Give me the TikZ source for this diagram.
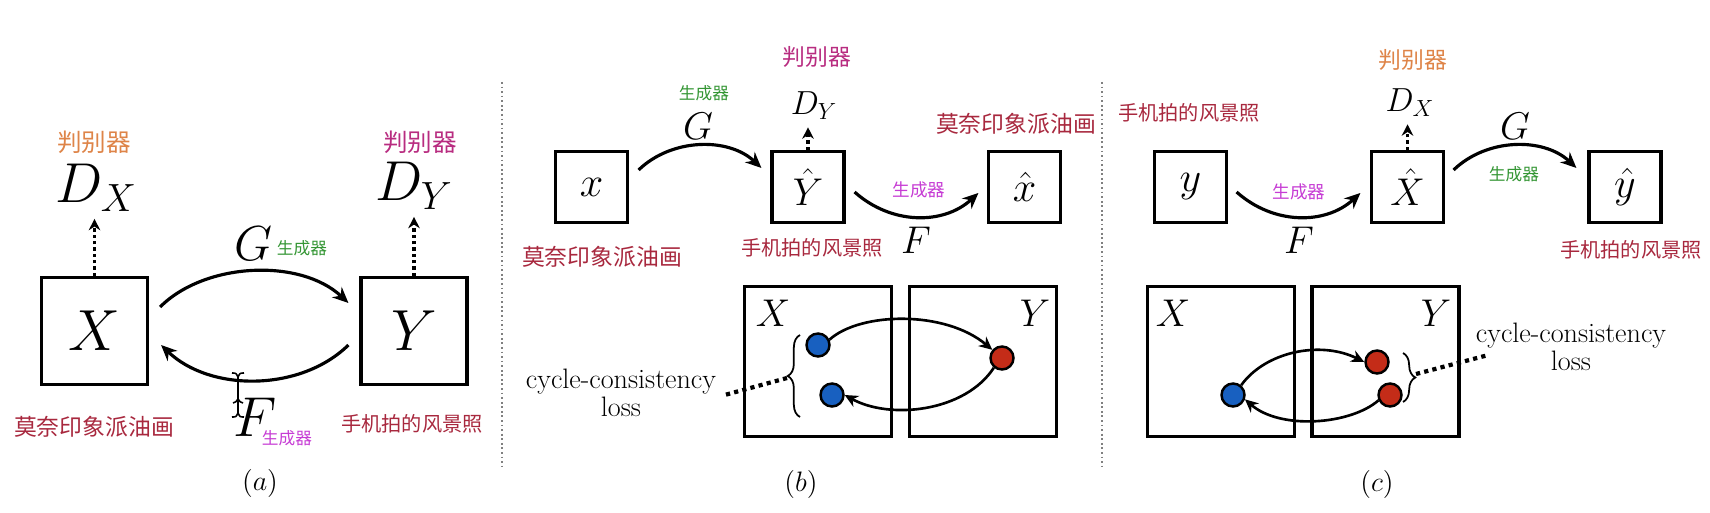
\RequirePackage{fix-cm}
\documentclass[tikz,border=0pt]{standalone}
\usepackage{fontspec}
\newfontfamily\cjk{Noto Sans CJK SC}
\usetikzlibrary{arrows.meta,calc,decorations.pathreplacing}

\definecolor{paintred}{RGB}{168,40,62}
\definecolor{discorange}{RGB}{222,132,72}
\definecolor{discpink}{RGB}{184,44,128}
\definecolor{gengreen}{RGB}{52,150,52}
\definecolor{genpink}{RGB}{198,60,212}
\definecolor{ptblue}{RGB}{24,96,192}
\definecolor{ptred}{RGB}{196,44,24}

\newcommand{\sz}[1]{\fontsize{#1}{#1}\selectfont}

\begin{document}
\begin{tikzpicture}[
  x=0.02cm, y=-0.02cm,
  bigbox/.style={draw, line width=1.8pt, minimum width=2.12cm, minimum height=2.14cm, inner sep=0pt, font=\sz{33}},
  smallbox/.style={draw, line width=1.8pt, minimum width=1.44cm, minimum height=1.42cm, inner sep=0pt, font=\sz{24}},
  setbox/.style={draw, line width=1.8pt, minimum width=2.94cm, minimum height=3cm, inner sep=0pt},
  mlabel/.style={inner sep=0pt, font=\sz{#1}},
  dlabel/.style={inner sep=0pt, font=\sz{#1}},
  note/.style={inner sep=0pt, font=\cjk\sz{#1}},
  loss/.style={align=center, inner sep=3pt, font=\sz{16}},
  bluept/.style={circle, draw, line width=1.4pt, minimum size=0.46cm, inner sep=0pt, fill=ptblue},
  redpt/.style={circle, draw, line width=1.4pt, minimum size=0.46cm, inner sep=0pt, fill=ptred},
  gen/.style={line width=1.8pt, -{Stealth[length=9pt,width=8pt]}},
  cyc/.style={line width=1.5pt, -{Stealth[length=7.5pt,width=7pt]}},
  toD/.style={line width=1.9pt, dash pattern=on 1.9pt off 1.7pt, -{Stealth[length=6.5pt,width=6.5pt]}, shorten >=4pt},
  lossline/.style={line width=2.4pt, dash pattern=on 2.4pt off 2.4pt},
  bracket/.style={decorate, decoration={brace, amplitude=7pt}, line width=1pt},
  divider/.style={gray, line width=0.8pt, dash pattern=on 1pt off 1.6pt}
]
  \useasboundingbox (0,0) rectangle (1710,513);

  % (a)
  \node[bigbox] (X) at (94.5,331) {$X$};
  \node[bigbox] (Y) at (414,331) {$Y$};
  \node[dlabel=32] (DX) at (96,188) {$D_X$};
  \node[dlabel=32] (DY) at (414,186) {$D_Y$};
  \node[note=14, discorange] (jX) at (94,142) {判别器};
  \node[note=14, discpink] (jY) at (420,142) {判别器};
  \node[mlabel=28] (G) at (253,244) {$G$};
  \node[note=9.5, gengreen] (gG) at (302,248) {生成器};
  \node[mlabel=32] (F) at (255,417) {$F$};
  \node[note=9.5, genpink] (gF) at (287,438) {生成器};
  \node[note=13, paintred] (mX) at (94,427) {莫奈印象派油画};
  \node[note=11.5, paintred] (sY) at (412,424) {手机拍的风景照};
  \node[mlabel=16] (la) at (260,483) {$(a)$};

  \draw[toD] (X.north) -- (DX.south -| X.north);
  \draw[toD] (Y.north) -- (DY.south -| Y.north);
  \draw[gen] ($(X.east)+(11,-24)$) .. controls +(45,-45) and +(-48,-45) .. ($(Y.west)+(-11,-28)$);
  \draw[gen] ($(Y.west)+(-11,14)$) .. controls +(-48,47) and +(49,47) .. ($(X.east)+(12,14)$);
  \draw[line width=0.9pt] (238,377) -- (238,413)
    (232,373) .. controls (236,373) .. (238,377) .. controls (240,373) .. (244,373)
    (233,403) .. controls (236,402) .. (238,399) .. controls (240,402) .. (243,403)
    (232,417) .. controls (236,417) .. (238,413) .. controls (240,417) .. (244,417);

  % (b)
  \draw[divider] (502,82) -- (502,470);
  \node[smallbox] (x) at (591.5,187) {$x$};
  \node[smallbox, font=\sz{22}] (Yh) at (808,187) {$\hat{Y}$};
  \node[smallbox] (xh) at (1024.5,187) {$\hat{x}$};
  \node[dlabel=19] (DYh) at (814,106) {$D_Y$};
  \node[note=13, discpink] (jYh) at (817,57) {判别器};
  \node[mlabel=22] (Gb) at (698,126) {$G$};
  \node[note=9.5, gengreen] (gGb) at (704,93) {生成器};
  \node[mlabel=22] (Fb) at (916,240) {$F$};
  \node[note=10, genpink] (gFb) at (919,190) {生成器};
  \node[note=13, paintred] (mx) at (602,257) {莫奈印象派油画};
  \node[note=11.5, paintred] (sYh) at (812,248) {手机拍的风景照};
  \node[note=13, paintred] (mxh) at (1016,124) {莫奈印象派油画};

  \draw[toD] (Yh.north) -- (DYh.south -| Yh.north);
  \draw[gen] ($(x.east)+(9.5,-17)$) .. controls +(33,-32) and +(-33,-31) .. ($(Yh.west)+(-9,-19)$);
  \draw[gen] ($(Yh.east)+(9,5)$) .. controls +(37,33) and +(-35,32) .. ($(xh.west)+(-8.5,6)$);

  \node[setbox] (Xb) at (818,361.5) {};
  \node[setbox] (Yb) at (983,361.5) {};
  \node[mlabel=22] (lXb) at (773,313) {$X$};
  \node[mlabel=22] (lYb) at (1035,313) {$Y$};
  \node[bluept] (p1) at (818,345) {};
  \node[bluept] (p2) at (832,395) {};
  \node[redpt] (q) at (1002,358) {};
  \draw[cyc] (p1.25) .. controls (860,312) and (945,310) .. (q.140);
  \draw[cyc] (q.230) .. controls (965,412) and (890,420) .. (p2.0);
  \draw[bracket] (800,417) -- (800,335);
  \coordinate (bt) at (787,378);
  \node[loss] (lossb) at (621,393) {cycle-consistency\\loss};
  \draw[lossline] (bt) -- ($(lossb.east)+(3,2)$);
  \node[mlabel=16] (lb) at (801,484) {$(b)$};

  % (c)
  \draw[divider] (1102,82) -- (1102,470);
  \node[smallbox] (y) at (1190.5,187) {$y$};
  \node[smallbox, font=\sz{22}] (Xh) at (1407.5,187) {$\hat{X}$};
  \node[smallbox] (yh) at (1625,187) {$\hat{y}$};
  \node[dlabel=19] (DXh) at (1410,103) {$D_X$};
  \node[note=13, discorange] (jXh) at (1413,60) {判别器};
  \node[mlabel=22] (Gc) at (1515,126) {$G$};
  \node[note=9.5, gengreen] (gGc) at (1514,174) {生成器};
  \node[mlabel=22] (Fc) at (1299,240) {$F$};
  \node[note=10, genpink] (gFc) at (1299,192) {生成器};
  \node[note=11.5, paintred] (sy) at (1189,113) {手机拍的风景照};
  \node[note=11.5, paintred] (syh) at (1631,250) {手机拍的风景照};

  \draw[toD] (Xh.north) -- (DXh.south -| Xh.north);
  \draw[gen] ($(y.east)+(8.5,5)$) .. controls +(37,33) and +(-35,32) .. ($(Xh.west)+(-9.5,6)$);
  \draw[gen] ($(Xh.east)+(8.5,-17)$) .. controls +(33,-32) and +(-33,-31) .. ($(yh.west)+(-11,-19)$);

  \node[setbox] (Xc) at (1221,361.5) {};
  \node[setbox] (Yc) at (1385.5,361.5) {};
  \node[mlabel=22] (lXc) at (1173,313) {$X$};
  \node[mlabel=22] (lYc) at (1436,313) {$Y$};
  \node[bluept] (pc) at (1233,395) {};
  \node[redpt] (qc1) at (1377,362) {};
  \node[redpt] (qc2) at (1390,395) {};
  \draw[cyc] (pc.50) .. controls (1265,352) and (1320,340) .. (qc1.180);
  \draw[cyc] (qc2.205) .. controls (1350,425) and (1280,430) .. (pc.-20);
  \draw[bracket] (1403,353) -- (1403,402);
  \coordinate (ct) at (1416,374);
  \node[loss] (lossc) at (1571,347) {cycle-consistency\\loss};
  \draw[lossline] (ct) -- ($(lossc.west)+(18,8)$);
  \node[mlabel=16] (lc) at (1377,484) {$(c)$};
\end{tikzpicture}
\end{document}
